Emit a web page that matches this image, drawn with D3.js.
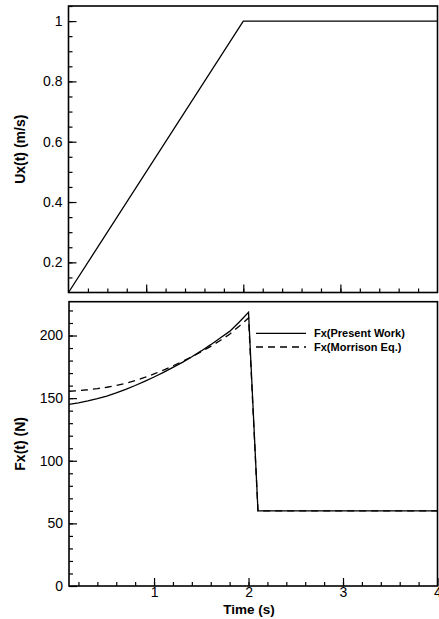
<!DOCTYPE html>
<html>
<head>
<meta charset="utf-8">
<script src="https://cdn.jsdelivr.net/npm/d3@7"></script>
<style>
  body { margin: 0; background: #fff; }
  svg { display: block; font-family: "Liberation Sans", Arial, sans-serif; }
  .tick text { font-size: 14px; fill: #000; }
  .title { font-size: 14px; font-weight: bold; }
  .xtitle { font-size: 13.5px; font-weight: bold; }
  .legend { font-size: 11px; font-weight: bold; }
</style>
</head>
<body>
<div id="chart-area"></div>
<script>

// velocity ramp (top plot)
let velTime = [0.2, 2, 4];
let velocity = [0.1, 1, 1];

// force (bottom plot)
let forceTime = [0.1, 0.2, 0.3, 0.4, 0.5, 0.6, 0.7, 0.8, 0.9, 1.0,
	1.1, 1.2, 1.3, 1.4, 1.5, 1.6, 1.7, 1.8, 1.9, 2.0, 2.1, 4.0];
let presentWork = [145, 146.3, 147.8, 149.6, 151.7, 154.2, 157, 160.1, 163.4, 166.9,
	170.6, 174.5, 178.6, 183, 187.7, 192.7, 198, 203.3, 210.6, 218.6, 60, 60];
let morrison = [155.5, 156, 156.7, 157.6, 158.7, 160.1, 161.9, 164, 166.5, 169.3,
	172.4, 175.8, 179.3, 183, 187, 191.3, 196, 201, 207.3, 214, 60, 60];

// tick labels
let velTicks = [0.2, 0.4, 0.6, 0.8, 1];
let forceTicks = [0, 50, 100, 150, 200];
let timeTicks = [1, 2, 3, 4];
let seriesNames = ["Fx(Present Work)", "Fx(Morrison Eq.)"];

let width = 439,
	height = 619;

let svg = d3.select("#chart-area").append("svg")
	.attr("width", width)
	.attr("height", height);

// scales
let xTop = d3.scaleLinear().domain([0.2, 4]).range([68.5, 437.5]);
let yTop = d3.scaleLinear().domain([0.1, 1.05]).range([292.5, 6]);

let xBot = d3.scaleLinear().domain([0.1, 4]).range([69, 437.5]);
let yBot = d3.scaleLinear().domain([0, 227]).range([586, 301.7]);

function drawTicks(g, axis, values, size, labels, pad) {
	let a = axis.tickValues(values).tickSize(size).tickPadding(pad || 6);
	if (!labels) a.tickFormat("");
	g.call(a);
	g.select(".domain").remove();
	g.selectAll(".tick line").attr("stroke", "#000").attr("stroke-width", 1.2);
}

// ---- top plot
let topPlot = svg.append("g");

drawTicks(topPlot.append("g").attr("transform", `translate(${xTop.range()[0]},0)`),
	d3.axisLeft(yTop), d3.range(0.15, 1.06, 0.05), -4, false);
drawTicks(topPlot.append("g").attr("transform", `translate(${xTop.range()[0]},0)`),
	d3.axisLeft(yTop).tickFormat(d3.format("")), velTicks, -8, true);

drawTicks(topPlot.append("g").attr("transform", `translate(0,${yTop.range()[0]})`),
	d3.axisBottom(xTop), d3.range(0.4, 3.9, 0.2), -4, false);
drawTicks(topPlot.append("g").attr("transform", `translate(0,${yTop.range()[0]})`),
	d3.axisBottom(xTop), [1, 2, 3], -8, false);

let velLine = d3.line()
	.x((d, i) => xTop(velTime[i]))
	.y(d => yTop(d));

topPlot.append("path")
	.attr("d", velLine(velocity))
	.attr("fill", "none")
	.attr("stroke", "#000")
	.attr("stroke-width", 1.3);

topPlot.append("rect")
	.attr("x", xTop.range()[0]).attr("y", yTop.range()[1])
	.attr("width", xTop.range()[1] - xTop.range()[0])
	.attr("height", yTop.range()[0] - yTop.range()[1])
	.attr("fill", "none").attr("stroke", "#000").attr("stroke-width", 1.6);

topPlot.append("text")
	.attr("class", "title")
	.attr("transform", `translate(25,${(yTop.range()[0] + yTop.range()[1]) / 2}) rotate(-90)`)
	.attr("text-anchor", "middle")
	.text("Ux(t) (m/s)");

// ---- bottom plot
let botPlot = svg.append("g");

drawTicks(botPlot.append("g").attr("transform", `translate(${xBot.range()[0]},0)`),
	d3.axisLeft(yBot), d3.range(10, 227, 10), -4, false);
drawTicks(botPlot.append("g").attr("transform", `translate(${xBot.range()[0]},0)`),
	d3.axisLeft(yBot).tickFormat(d3.format("")), forceTicks, -8, true);

drawTicks(botPlot.append("g").attr("transform", `translate(0,${yBot.range()[0]})`),
	d3.axisBottom(xBot), d3.range(0.2, 3.9, 0.2), -4, false);
drawTicks(botPlot.append("g").attr("transform", `translate(0,${yBot.range()[0]})`),
	d3.axisBottom(xBot).tickFormat(d3.format("")), timeTicks, -8, true, 1);

let forceLine = d3.line()
	.x((d, i) => xBot(forceTime[i]))
	.y(d => yBot(d));

botPlot.append("path")
	.attr("d", forceLine(morrison))
	.attr("fill", "none")
	.attr("stroke", "#000")
	.attr("stroke-width", 1.3)
	.attr("stroke-dasharray", "7,5");

botPlot.append("path")
	.attr("d", forceLine(presentWork))
	.attr("fill", "none")
	.attr("stroke", "#000")
	.attr("stroke-width", 1.3);

botPlot.append("rect")
	.attr("x", xBot.range()[0]).attr("y", yBot.range()[1])
	.attr("width", xBot.range()[1] - xBot.range()[0])
	.attr("height", yBot.range()[0] - yBot.range()[1])
	.attr("fill", "none").attr("stroke", "#000").attr("stroke-width", 1.6);

botPlot.append("text")
	.attr("class", "title")
	.attr("transform", `translate(25,${(yBot.range()[0] + yBot.range()[1]) / 2}) rotate(-90)`)
	.attr("text-anchor", "middle")
	.text("Fx(t) (N)");

botPlot.append("text")
	.attr("class", "xtitle")
	.attr("x", 249).attr("y", 613.5)
	.attr("text-anchor", "middle")
	.text("Time (s)");

// legend
let legend = botPlot.selectAll(".leg").data(seriesNames).enter().append("g")
	.attr("transform", (d, i) => `translate(256,${333.3 + i * 13.7})`);

legend.append("line")
	.attr("x1", 0).attr("x2", 50)
	.attr("stroke", "#000").attr("stroke-width", 1.3)
	.attr("stroke-dasharray", (d, i) => i ? "7,5" : null);

legend.append("text")
	.attr("class", "legend")
	.attr("x", 58).attr("y", 4)
	.text(d => d);

</script>
</body>
</html>
